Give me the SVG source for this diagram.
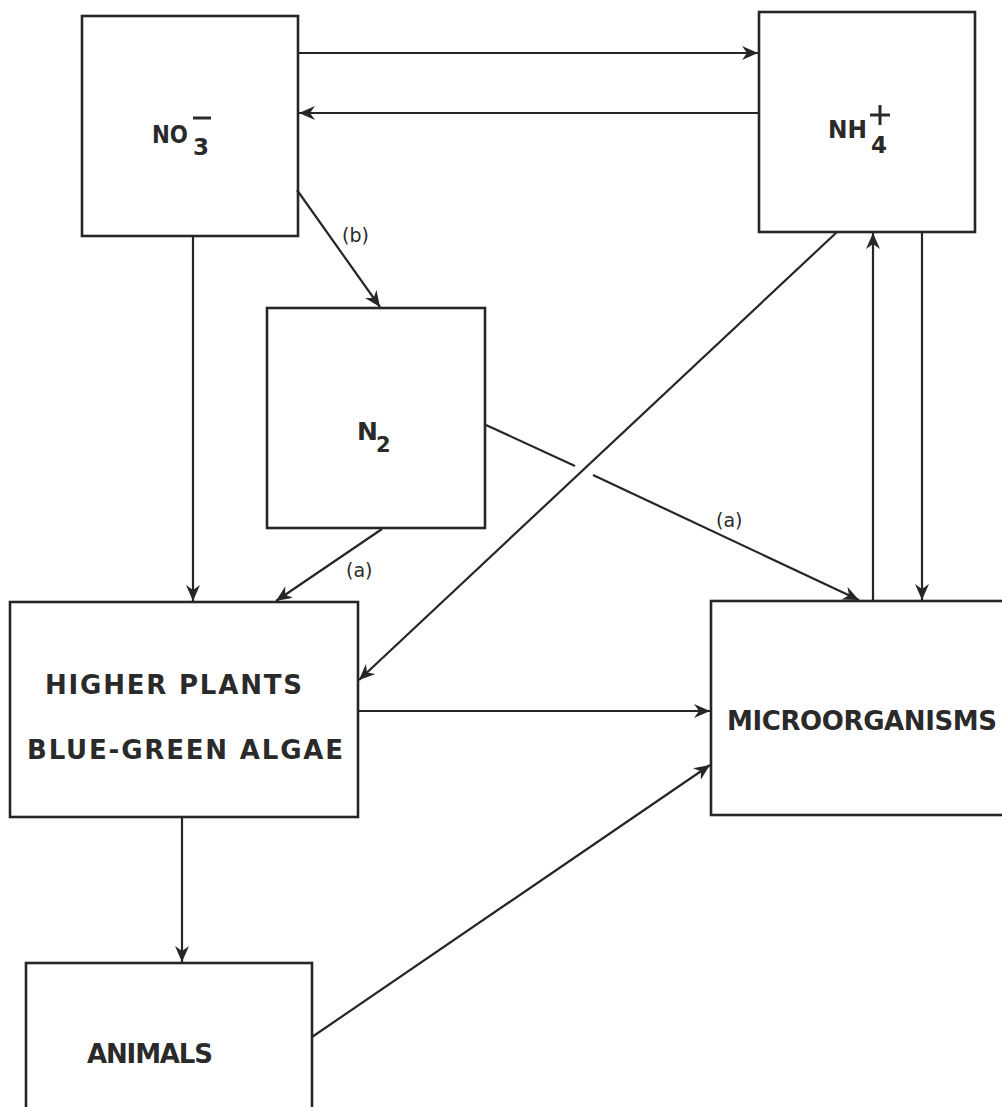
<svg xmlns="http://www.w3.org/2000/svg" width="1002" height="1107" viewBox="0 0 1002 1107">
<style>
.box{fill:none;stroke:#262626;stroke-width:2.6}
.ln{fill:none;stroke:#262626;stroke-width:2.2}
.t{font-family:"DejaVu Sans","Liberation Sans",sans-serif;font-weight:bold;fill:#2a2a2a}
.lbl{font-family:"DejaVu Sans","Liberation Sans",sans-serif;font-size:19px;fill:#2a2a2a}
</style>
<defs>
<marker id="ah" markerUnits="userSpaceOnUse" markerWidth="18" markerHeight="16" refX="16" refY="7" orient="auto">
<path d="M0,0 L16,7 L0,14 L5,7 z" fill="#262626"/>
</marker>
</defs>
<rect width="1002" height="1107" fill="#fff"/>
<g id="connectors">
<line class="ln" x1="298" y1="53" x2="758" y2="53" marker-end="url(#ah)"/>
<line class="ln" x1="759" y1="113" x2="299" y2="113" marker-end="url(#ah)"/>
<line class="ln" x1="297" y1="190" x2="380" y2="307" marker-end="url(#ah)"/>
<line class="ln" x1="193" y1="236" x2="193" y2="601" marker-end="url(#ah)"/>
<line class="ln" x1="382" y1="529" x2="276" y2="601" marker-end="url(#ah)"/>
<line class="ln" x1="837" y1="232" x2="359" y2="680" marker-end="url(#ah)"/>
<line class="ln" x1="486" y1="425" x2="575" y2="466"/>
<line class="ln" x1="593" y1="475" x2="859" y2="600" marker-end="url(#ah)"/>
<line class="ln" x1="873" y1="600" x2="873" y2="233" marker-end="url(#ah)"/>
<line class="ln" x1="922" y1="232" x2="922" y2="600" marker-end="url(#ah)"/>
<line class="ln" x1="358" y1="711" x2="710" y2="711" marker-end="url(#ah)"/>
<line class="ln" x1="312" y1="1037" x2="710" y2="765" marker-end="url(#ah)"/>
<line class="ln" x1="182" y1="817" x2="182" y2="962" marker-end="url(#ah)"/>
<text class="lbl" x="342" y="242">(b)</text>
<text class="lbl" x="346" y="577">(a)</text>
<text class="lbl" x="716" y="527">(a)</text>
</g>
<g id="no3">
<rect class="box" x="82" y="16" width="216" height="220"/>
<text class="t" x="152" y="143" font-size="25" textLength="36" lengthAdjust="spacingAndGlyphs">NO</text>
<text class="t" x="193" y="155" font-size="23">3</text>
<line x1="193" y1="118" x2="211" y2="118" stroke="#2a2a2a" stroke-width="3"/>
</g>
<g id="nh4">
<rect class="box" x="759" y="12" width="216" height="220"/>
<text class="t" x="828" y="138" font-size="25" textLength="39" lengthAdjust="spacingAndGlyphs">NH</text>
<text class="t" x="871" y="153" font-size="23">4</text>
<line x1="870" y1="115" x2="890" y2="115" stroke="#2a2a2a" stroke-width="3"/>
<line x1="880" y1="105" x2="880" y2="125" stroke="#2a2a2a" stroke-width="3"/>
</g>
<g id="n2">
<rect class="box" x="267" y="308" width="218" height="220"/>
<text class="t" x="357" y="440" font-size="25">N</text>
<text class="t" x="376" y="452" font-size="21">2</text>
</g>
<g id="plants">
<rect class="box" x="10" y="602" width="348" height="215"/>
<text class="t" x="45" y="694" font-size="26" textLength="257" lengthAdjust="spacing">HIGHER  PLANTS</text>
<text class="t" x="27" y="759" font-size="26" textLength="316" lengthAdjust="spacing">BLUE-GREEN ALGAE</text>
</g>
<g id="microorganisms">
<rect class="box" x="711" y="601" width="300" height="214"/>
<text class="t" x="727" y="730" font-size="26" textLength="270" lengthAdjust="spacing">MICROORGANISMS</text>
</g>
<g id="animals">
<rect class="box" x="26" y="963" width="286" height="160"/>
<text class="t" x="87" y="1063" font-size="26" textLength="126" lengthAdjust="spacing">ANIMALS</text>
</g>
</svg>
